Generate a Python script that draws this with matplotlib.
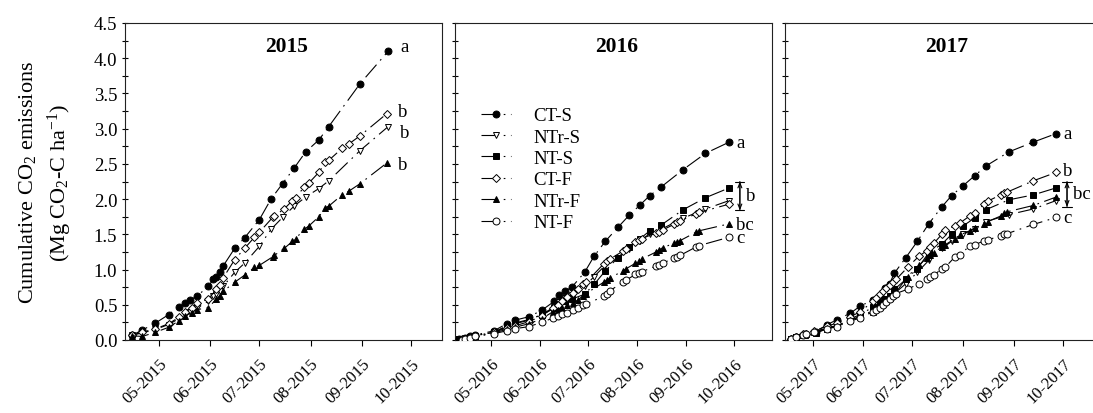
import matplotlib
matplotlib.use("Agg")
import matplotlib.pyplot as plt
import matplotlib.dates as mdates
from matplotlib.lines import Line2D
from matplotlib.patches import FancyArrowPatch
from matplotlib.ticker import MultipleLocator, FormatStrFormatter
import pandas as pd

plt.rcParams['font.family'] = ['Liberation Serif', 'DejaVu Serif']
plt.rcParams['mathtext.fontset'] = 'custom'
plt.rcParams['mathtext.rm'] = 'Liberation Serif'
plt.rcParams['mathtext.it'] = 'Liberation Serif:italic'
plt.rcParams['mathtext.bf'] = 'Liberation Serif:bold'
plt.rcParams['lines.scale_dashes'] = False

# ---------------- data: cumulative CO2 (Mg CO2-C ha-1) ----------------
treatments = ['CT-S', 'NTr-S', 'NT-S', 'CT-F', 'NTr-F', 'NT-F']
years = [2015, 2016, 2017]

# 2015
dates_s_2015 = ['04-15', '04-21', '04-29', '05-07', '05-13', '05-17', '05-20', '05-24',
                '05-31', '06-03', '06-05', '06-07', '06-09', '06-16', '06-22', '07-01',
                '07-08', '07-15', '07-22', '07-29', '08-06', '08-12', '08-31', '09-17']
ct_s_2015 = [0.07, 0.14, 0.24, 0.36, 0.47, 0.53, 0.57, 0.62, 0.76, 0.86, 0.89, 0.96,
             1.05, 1.30, 1.45, 1.71, 2.00, 2.22, 2.44, 2.67, 2.84, 3.03, 3.64, 4.10]
ntr_s_2015 = [0.07, 0.10, 0.15, 0.22, 0.30, 0.36, 0.40, 0.45, 0.55, 0.62, 0.66, 0.70,
              0.76, 0.96, 1.09, 1.33, 1.57, 1.74, 1.90, 2.03, 2.15, 2.26, 2.69, 3.03]
dates_f_2015 = ['04-15', '04-21', '04-29', '05-07', '05-13', '05-17', '05-21', '05-24',
                '05-31', '06-05', '06-07', '06-09', '06-16', '06-22', '06-28', '07-01',
                '07-09', '07-10', '07-16', '07-21', '07-23', '07-28', '07-31', '08-06',
                '08-10', '08-12', '08-20', '08-24', '08-31', '09-16']
ct_f_2015 = [0.07, 0.11, 0.16, 0.23, 0.32, 0.40, 0.45, 0.52, 0.58, 0.72, 0.78, 0.88,
             1.14, 1.30, 1.46, 1.53, 1.74, 1.76, 1.86, 1.98, 2.02, 2.17, 2.23, 2.38,
             2.52, 2.55, 2.72, 2.78, 2.90, 3.21]
ntr_f_2015 = [0.06, 0.05, 0.11, 0.18, 0.27, 0.34, 0.39, 0.43, 0.46, 0.58, 0.63, 0.69,
              0.82, 0.92, 1.03, 1.06, 1.18, 1.20, 1.30, 1.40, 1.44, 1.57, 1.62, 1.75,
              1.88, 1.90, 2.06, 2.11, 2.22, 2.51]

# 2016
dates_s_2016 = ['04-11', '04-15', '04-18', '04-21', '05-03', '05-11', '05-16', '05-25',
                '06-02', '06-10', '06-13', '06-17', '06-21', '06-29', '07-05', '07-12',
                '07-20', '07-27', '08-03', '08-09', '08-16', '08-30', '09-13', '09-28']
ct_s_2016 = [0.01, 0.03, 0.05, 0.07, 0.13, 0.23, 0.28, 0.33, 0.42, 0.55, 0.64, 0.70,
             0.75, 0.96, 1.19, 1.40, 1.60, 1.77, 1.92, 2.05, 2.17, 2.42, 2.65, 2.81]
ntr_s_2016 = [0.01, 0.02, 0.04, 0.06, 0.11, 0.19, 0.23, 0.28, 0.36, 0.47, 0.54, 0.59,
              0.64, 0.76, 0.90, 1.06, 1.16, 1.29, 1.41, 1.51, 1.57, 1.73, 1.86, 1.98]
nt_s_2016 = [0.01, 0.02, 0.04, 0.06, 0.11, 0.20, 0.24, 0.29, 0.36, 0.45, 0.50, 0.55,
             0.58, 0.65, 0.79, 0.98, 1.17, 1.32, 1.44, 1.55, 1.63, 1.85, 2.02, 2.16]
dates_f_2016 = ['04-13', '04-15', '04-18', '04-21', '05-03', '05-11', '05-16', '05-25',
                '06-02', '06-09', '06-12', '06-15', '06-18', '06-22', '06-25', '06-28',
                '06-30', '07-11', '07-13', '07-15', '07-23', '07-25', '07-31', '08-02',
                '08-04', '08-13', '08-15', '08-17', '08-24', '08-26', '08-28', '09-07',
                '09-09', '09-28']
ct_f_2016 = [0.01, 0.02, 0.04, 0.06, 0.11, 0.17, 0.20, 0.26, 0.34, 0.45, 0.50, 0.55,
             0.61, 0.67, 0.73, 0.80, 0.82, 1.08, 1.12, 1.15, 1.26, 1.29, 1.39, 1.42,
             1.44, 1.52, 1.54, 1.56, 1.64, 1.67, 1.69, 1.79, 1.81, 1.93]
ntr_f_2016 = [0.01, 0.02, 0.04, 0.05, 0.10, 0.15, 0.18, 0.23, 0.30, 0.40, 0.43, 0.46,
              0.49, 0.53, 0.57, 0.63, 0.66, 0.82, 0.85, 0.88, 0.98, 1.01, 1.09, 1.12,
              1.15, 1.25, 1.28, 1.31, 1.37, 1.39, 1.41, 1.53, 1.55, 1.65]
nt_f_2016 = [0.00, 0.02, 0.03, 0.05, 0.09, 0.13, 0.16, 0.19, 0.25, 0.31, 0.34, 0.37,
             0.39, 0.42, 0.45, 0.49, 0.51, 0.62, 0.66, 0.70, 0.82, 0.85, 0.93, 0.95,
             0.97, 1.05, 1.07, 1.09, 1.16, 1.18, 1.20, 1.32, 1.34, 1.46]

# 2017
dates_s_2017 = ['04-18', '04-21', '04-26', '05-03', '05-10', '05-16', '05-24', '05-30',
                '06-07', '06-11', '06-14', '06-17', '06-20', '06-27', '07-04', '07-11',
                '07-19', '07-25', '08-01', '08-08', '08-15', '08-29', '09-13', '09-27']
ct_s_2017 = [0.02, 0.04, 0.08, 0.12, 0.22, 0.29, 0.38, 0.48, 0.57, 0.62, 0.74, 0.80,
             0.95, 1.17, 1.40, 1.65, 1.89, 2.05, 2.19, 2.33, 2.47, 2.67, 2.81, 2.93]
ntr_s_2017 = [0.02, 0.04, 0.07, 0.10, 0.17, 0.21, 0.28, 0.33, 0.42, 0.46, 0.53, 0.58,
              0.66, 0.80, 0.96, 1.13, 1.30, 1.40, 1.50, 1.58, 1.68, 1.78, 1.86, 1.98]
nt_s_2017 = [0.02, 0.04, 0.07, 0.10, 0.16, 0.20, 0.30, 0.36, 0.47, 0.52, 0.58, 0.63,
             0.72, 0.86, 1.01, 1.24, 1.36, 1.50, 1.62, 1.73, 1.85, 1.99, 2.06, 2.16]
dates_f_2017 = ['04-18', '04-21', '04-25', '04-27', '05-02', '05-10', '05-16', '05-24',
                '05-30', '06-07', '06-09', '06-11', '06-13', '06-15', '06-17', '06-19',
                '06-21', '06-28', '07-05', '07-10', '07-12', '07-14', '07-19', '07-21',
                '07-27', '07-30', '08-05', '08-08', '08-14', '08-16', '08-24', '08-26',
                '08-28', '09-13', '09-27']
ct_f_2017 = [0.02, 0.04, 0.08, 0.09, 0.13, 0.20, 0.24, 0.33, 0.40, 0.55, 0.60, 0.65,
             0.70, 0.74, 0.78, 0.82, 0.86, 1.03, 1.19, 1.27, 1.32, 1.37, 1.50, 1.56,
             1.62, 1.66, 1.76, 1.80, 1.93, 1.97, 2.06, 2.08, 2.10, 2.26, 2.38]
ntr_f_2017 = [0.02, 0.04, 0.07, 0.08, 0.12, 0.17, 0.20, 0.29, 0.33, 0.40, 0.44, 0.48,
              0.52, 0.56, 0.60, 0.64, 0.68, 0.90, 1.06, 1.17, 1.21, 1.24, 1.32, 1.35,
              1.44, 1.49, 1.55, 1.59, 1.64, 1.68, 1.76, 1.80, 1.82, 1.91, 2.03]
nt_f_2017 = [0.02, 0.04, 0.07, 0.09, 0.12, 0.16, 0.19, 0.27, 0.31, 0.40, 0.43, 0.46,
             0.50, 0.54, 0.58, 0.62, 0.66, 0.72, 0.80, 0.86, 0.89, 0.92, 1.01, 1.03,
             1.18, 1.20, 1.34, 1.35, 1.41, 1.42, 1.48, 1.50, 1.51, 1.64, 1.74]

# significance letters per year: (treatment, letter)
letters_2015 = [('CT-S', 'a'), ('CT-F', 'b'), ('NTr-S', 'b'), ('NTr-F', 'b')]
letters_2016 = [('CT-S', 'a'), ('NTr-F', 'bc'), ('NT-F', 'c')]
letters_2017 = [('CT-S', 'a'), ('CT-F', 'b'), ('NT-F', 'c')]
# treatments grouped under one bracket
bracket_2016 = (['NT-S', 'NTr-S', 'CT-F'], 'b')
bracket_2017 = (['NT-S', 'NTr-F', 'NTr-S'], 'bc')

# ---------------- assemble ----------------
def as_dates(year, mmdd):
    return pd.to_datetime([f'{year}-{d}' for d in mmdd])

panel_series = {
    2015: {'CT-S': (dates_s_2015, ct_s_2015), 'NTr-S': (dates_s_2015, ntr_s_2015),
           'CT-F': (dates_f_2015, ct_f_2015), 'NTr-F': (dates_f_2015, ntr_f_2015)},
    2016: {'CT-S': (dates_s_2016, ct_s_2016), 'NTr-S': (dates_s_2016, ntr_s_2016),
           'NT-S': (dates_s_2016, nt_s_2016), 'CT-F': (dates_f_2016, ct_f_2016),
           'NTr-F': (dates_f_2016, ntr_f_2016), 'NT-F': (dates_f_2016, nt_f_2016)},
    2017: {'CT-S': (dates_s_2017, ct_s_2017), 'NTr-S': (dates_s_2017, ntr_s_2017),
           'NT-S': (dates_s_2017, nt_s_2017), 'CT-F': (dates_f_2017, ct_f_2017),
           'NTr-F': (dates_f_2017, ntr_f_2017), 'NT-F': (dates_f_2017, nt_f_2017)},
}
panel_letters = {2015: letters_2015, 2016: letters_2016, 2017: letters_2017}
panel_brackets = {2016: bracket_2016, 2017: bracket_2017}

styles = {
    'CT-S':  dict(marker='o', mfc='black', ms=5.0),
    'NTr-S': dict(marker='v', mfc='white', ms=5.0),
    'NT-S':  dict(marker='s', mfc='black', ms=4.6),
    'CT-F':  dict(marker='D', mfc='white', ms=4.4),
    'NTr-F': dict(marker='^', mfc='black', ms=5.0),
    'NT-F':  dict(marker='o', mfc='white', ms=5.0),
}
dash = (0, (12, 4, 1.2, 4))

# ---------------- layout (pixels of a 1093 x 414 canvas) ----------------
W, H = 1093, 414
fig = plt.figure(figsize=(W / 100, H / 100), dpi=100)
lefts = [125, 455, 785]
ax_w, ax_top, ax_bot = 317, 24, 341
xlims = {2015: ('2015-04-10 14:00', '2015-10-19 14:00'),
         2016: ('2016-04-08 14:00', '2016-10-24 19:00'),
         2017: ('2017-04-14 01:00', '2017-10-25 00:00')}
letter_dx = {2015: 8.5, 2016: 5.0, 2017: 5.0}
letter_dy = {(2015, 'CT-S'): 3.5, (2015, 'CT-F'): 1.5, (2015, 'NTr-S'): -4.0,
             (2015, 'NTr-F'): -1.0, (2016, 'NTr-F'): -0.5, (2017, 'CT-F'): 1.5}
FS = 13.5

for i, year in enumerate(years):
    ax = fig.add_axes([lefts[i] / W, (H - ax_bot) / H, ax_w / W, (ax_bot - ax_top) / H])
    for name in treatments:
        if name not in panel_series[year]:
            continue
        d, v = panel_series[year][name]
        st = styles[name]
        ax.plot(as_dates(year, d), v, color='black', lw=0.8, linestyle=dash,
                marker=st['marker'], ms=st['ms'], mfc=st['mfc'], mec='black', mew=0.7,
                zorder=3)

    for name, letter in panel_letters[year]:
        d, v = panel_series[year][name]
        ax.annotate(letter, xy=(as_dates(year, d)[-1], v[-1]),
                    xytext=(letter_dx[year], letter_dy.get((year, name), 0.0)),
                    textcoords='offset points', ha='left', va='center', fontsize=FS)

    if year in panel_brackets:
        group, letter = panel_brackets[year]
        ends = [panel_series[year][n][1][-1] for n in group]
        last = max(as_dates(year, panel_series[year][n][0])[-1] for n in group)
        xb = mdates.date2num(last + pd.Timedelta(days=6.6))
        top, bot = max(ends) + 0.09, min(ends) - 0.09
        for style in ('<->,head_length=0.35,head_width=0.14',
                      '|-|,widthA=0.33,widthB=0.33'):
            ax.add_patch(FancyArrowPatch((xb, bot), (xb, top), arrowstyle=style,
                                         mutation_scale=10, lw=0.8, color='black',
                                         shrinkA=0, shrinkB=0, zorder=4))
        ax.annotate(letter, xy=(xb, (top + bot) / 2), xytext=(4.5, 0.5),
                    textcoords='offset points', ha='left', va='center', fontsize=FS)

    ax.text(0.51, 0.928, str(year), transform=ax.transAxes, ha='center', va='center',
            fontsize=15.5, fontweight='bold')

    ax.set_ylim(0, 4.5)
    ax.set_xlim(pd.Timestamp(xlims[year][0]), pd.Timestamp(xlims[year][1]))
    ax.yaxis.set_major_locator(MultipleLocator(0.5))
    ax.yaxis.set_minor_locator(MultipleLocator(0.25))
    ax.yaxis.set_major_formatter(FormatStrFormatter('%.1f'))
    ax.xaxis.set_major_locator(mdates.MonthLocator(bymonth=range(5, 11)))
    ax.xaxis.set_major_formatter(mdates.DateFormatter('%m-%Y'))
    ax.tick_params(axis='y', which='both', direction='inout', length=5, width=0.8,
                   labelsize=FS, pad=3, labelleft=(i == 0))
    ax.tick_params(axis='x', which='major', direction='out', length=4, width=0.8,
                   labelsize=12, pad=7)
    for lab in ax.get_xticklabels():
        lab.set_rotation(45)
        lab.set_ha('right')
        lab.set_va('top')
        lab.set_rotation_mode('anchor')
    for sp in ax.spines.values():
        sp.set_linewidth(0.8)
        sp.set_color('#222222')

    if year == 2016:
        handles = [Line2D([], [], color='black', lw=0.8, linestyle=dash,
                          marker=styles[n]['marker'], ms=styles[n]['ms'],
                          mfc=styles[n]['mfc'], mec='black', mew=0.7)
                   for n in treatments]
        ax.legend(handles, treatments, loc='upper left', bbox_to_anchor=(0.082, 0.735),
                  frameon=False, fontsize=FS, handlelength=1.6, handletextpad=1.2,
                  labelspacing=0.23, borderpad=0, borderaxespad=0, numpoints=1)

fig.text(28 / W, 1 - 182 / H, 'Cumulative CO$_2$ emissions', rotation=90,
         ha='center', va='center', fontsize=16)
fig.text(60 / W, 1 - 183 / H, '(Mg CO$_2$-C ha$^{-1}$)', rotation=90,
         ha='center', va='center', fontsize=16)

fig.savefig('out.png', dpi=100)
